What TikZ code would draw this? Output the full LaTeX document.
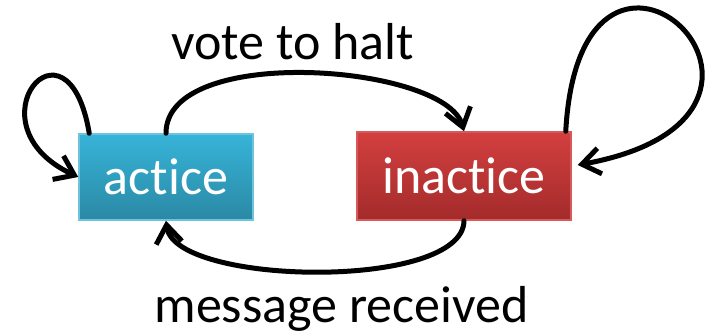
\documentclass[tikz,border=0pt]{standalone}
\usepackage{fontspec}
\setmainfont{Carlito}[RawFeature=-liga, RawFeature=-clig, RawFeature=-calt, RawFeature=-dlig]
\usetikzlibrary{arrows.meta}
\definecolor{actTop}{HTML}{37B4D8}
\definecolor{actBot}{HTML}{2A89A5}
\definecolor{actRim}{HTML}{6EC3DD}
\definecolor{inTop}{HTML}{D33F3F}
\definecolor{inBot}{HTML}{A42B2B}
\definecolor{inRim}{HTML}{D65A5A}
\tikzset{
  statebox/.style={rectangle, inner sep=0pt, line width=1.5pt, text=white,
    font=\fontsize{52}{60}\selectfont},
  activebox/.style={statebox, draw=actRim, top color=actTop, bottom color=actBot,
    minimum width=174pt, minimum height=86pt},
  inactivebox/.style={statebox, draw=inRim, top color=inTop, bottom color=inBot,
    minimum width=214pt, minimum height=88pt},
  edgelabel/.style={font=\fontsize{52}{60}\selectfont, anchor=base, inner sep=0pt},
  flow/.style={line width=5pt, line cap=round,
    -{Straight Barb[length=18pt, width=26pt, line width=5pt]}}
}
\begin{document}
\begin{tikzpicture}[x=1pt, y=1pt]
  \useasboundingbox (0,0) rectangle (717,330);
  % "t" is kept apart from the following "i" so no ti-ligature forms
  \node[activebox]   (act)   at (166,153) {act\kern0pt ice};
  \node[inactivebox] (inact) at (464,154) {inact\kern0pt ice};
  \node[edgelabel] (lblhalt) at (292.5,270) {vote to halt};
  \node[edgelabel] (lblmsg)  at (341.5,8) {message received};
  % self loops
  \coordinate (actloop)  at ([xshift=11pt]act.north west);
  \coordinate (inloop)   at ([xshift=-6pt]inact.north east);
  \coordinate (intip)    at ([xshift=6pt,yshift=11pt]inact.east);
  \draw[flow] (actloop) .. controls +(-22,130) and +(-112,52) .. (act.west);
  \draw[flow] (inloop) .. controls +(15,272) and +(275,50) .. (intip);
  % transitions between the states
  \draw[flow] (act.north) .. controls +(0,90) and +(-19,67) .. (inact.north);
  \draw[flow] (inact.south) .. controls +(-1,-70) and +(9,-65) .. (act.south);
\end{tikzpicture}
\end{document}
